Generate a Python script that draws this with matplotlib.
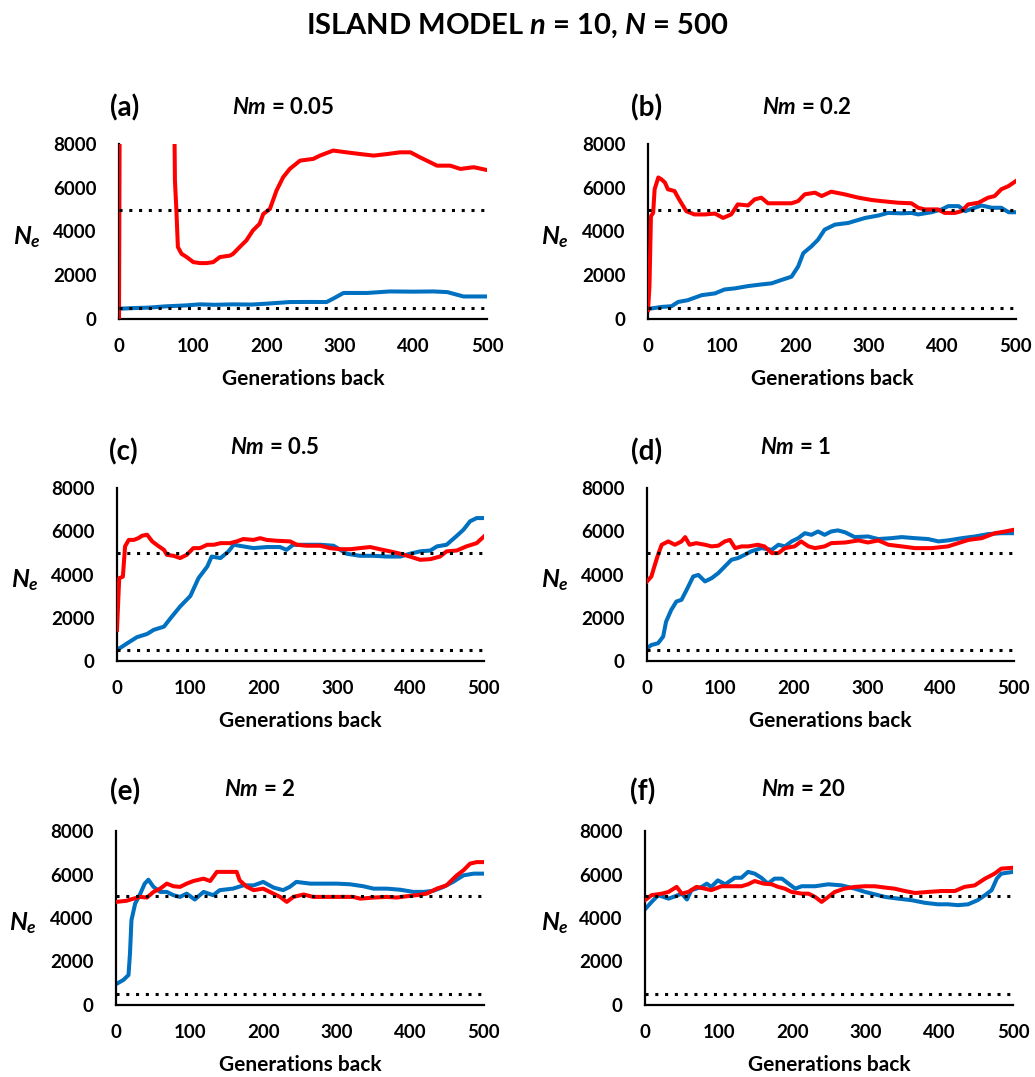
import matplotlib
matplotlib.use("Agg")
import matplotlib.pyplot as plt

# 字体设置
plt.rcParams['font.family'] = ['Lato', 'DejaVu Sans']
plt.rcParams['font.weight'] = 'bold'
plt.rcParams['mathtext.fontset'] = 'custom'
plt.rcParams['mathtext.it'] = 'Lato:italic:bold'
plt.rcParams['mathtext.rm'] = 'Lato:bold'
plt.rcParams['mathtext.bf'] = 'Lato:bold'

# 数据: 每个面板一条红线一条蓝线 (代数, Ne)
panel_labels = ['(a)', '(b)', '(c)', '(d)', '(e)', '(f)']
nm_values = ['0.05', '0.2', '0.5', '1', '2', '20']
ref_levels = [500, 5000]
x_ticks = [0, 100, 200, 300, 400, 500]
y_ticks = [0, 2000, 4000, 6000, 8000]

a_red_x = [0, 2, 72, 76, 78, 80, 85, 92, 101, 110, 119, 128, 137, 151, 155, 164, 173, 182, 191, 196,
           205, 214, 223, 232, 246, 264, 273, 291, 309, 328, 346, 364, 382, 396, 409, 423, 432, 450,
           464, 482, 500]
a_red_y = [0, 20000, 20000, 6330, 4960, 3290, 2980, 2830, 2600, 2555, 2555, 2600, 2830, 2900, 2980,
           3290, 3590, 4050, 4350, 4800, 5030, 5870, 6480, 6860, 7240, 7320, 7470, 7700, 7620, 7540,
           7470, 7540, 7620, 7620, 7390, 7160, 7010, 7010, 6860, 6940, 6810]
a_blue_x = [0, 20, 40, 64, 90, 110, 130, 155, 180, 200, 232, 260, 282, 291, 305, 337, 368, 400, 427,
            446, 468, 500]
a_blue_y = [470, 500, 520, 580, 620, 670, 650, 670, 660, 700, 775, 780, 775, 930, 1190, 1190, 1260,
            1250, 1260, 1230, 1030, 1030]

b_red_x = [0, 2, 4, 7, 9, 14, 18, 23, 27, 36, 41, 45, 52, 63, 77, 91, 102, 113, 122, 136, 145, 154,
           163, 181, 195, 204, 213, 227, 236, 249, 267, 286, 304, 317, 340, 358, 367, 376, 394, 403,
           417, 426, 435, 449, 462, 471, 480, 490, 500]
b_red_y = [400, 1500, 4700, 4850, 5930, 6470, 6390, 6240, 5930, 5850, 5545, 5315, 4930, 4780, 4780,
           4820, 4620, 4780, 5240, 5190, 5470, 5545, 5290, 5290, 5290, 5390, 5700, 5775, 5620, 5820,
           5700, 5545, 5440, 5390, 5315, 5290, 5085, 5010, 5010, 4850, 4850, 4930, 5240, 5315, 5545,
           5620, 5930, 6080, 6310]
b_blue_x = [0, 18, 32, 41, 54, 73, 91, 104, 118, 136, 154, 168, 181, 195, 204, 211, 222, 231, 240,
            254, 272, 295, 313, 326, 345, 358, 367, 385, 399, 408, 422, 431, 444, 453, 467, 480, 490,
            500]
b_blue_y = [460, 550, 585, 780, 860, 1090, 1170, 1350, 1400, 1505, 1580, 1630, 1780, 1935, 2400, 3010,
            3320, 3625, 4085, 4315, 4390, 4620, 4730, 4850, 4830, 4850, 4780, 4880, 5010, 5160, 5160,
            4930, 5085, 5190, 5085, 5085, 4880, 4880]

c_red_x = [0, 3, 8, 11, 16, 23, 29, 34, 41, 48, 57, 64, 68, 77, 86, 95, 104, 113, 123, 132, 141, 154,
           163, 172, 186, 195, 204, 218, 236, 245, 259, 277, 290, 304, 318, 331, 345, 358, 372, 386,
           399, 413, 427, 440, 449, 463, 476, 490, 500]
c_red_y = [1440, 3830, 3900, 5300, 5600, 5600, 5680, 5790, 5840, 5530, 5300, 5140, 4910, 4865, 4760,
           4910, 5220, 5220, 5375, 5375, 5450, 5450, 5530, 5640, 5600, 5680, 5600, 5560, 5530, 5375,
           5330, 5330, 5220, 5170, 5170, 5220, 5270, 5170, 5070, 4960, 4830, 4680, 4710, 4830, 5070,
           5110, 5300, 5450, 5760]
c_blue_x = [0, 14, 27, 41, 50, 64, 73, 86, 100, 111, 123, 129, 141, 152, 159, 172, 186, 204, 222, 231,
            240, 259, 277, 295, 313, 331, 349, 368, 386, 399, 413, 427, 436, 449, 463, 472, 481, 490,
            500]
c_blue_y = [510, 820, 1100, 1250, 1440, 1590, 1980, 2520, 3010, 3830, 4370, 4830, 4760, 5070, 5375,
            5300, 5220, 5270, 5270, 5140, 5375, 5375, 5375, 5330, 4960, 4865, 4865, 4830, 4830, 4960,
            5070, 5110, 5300, 5375, 5790, 6070, 6460, 6610, 6610]

d_red_x = [0, 6, 10, 15, 20, 29, 38, 47, 52, 58, 67, 79, 88, 97, 106, 113, 120, 129, 138, 151, 160,
           170, 179, 188, 201, 210, 220, 229, 242, 251, 270, 288, 301, 315, 329, 347, 365, 388, 410,
           424, 438, 456, 474, 488, 500]
d_red_y = [3680, 3910, 4370, 4910, 5375, 5530, 5375, 5530, 5730, 5375, 5450, 5375, 5300, 5330, 5530,
           5600, 5220, 5300, 5300, 5375, 5300, 4990, 4990, 5220, 5300, 5530, 5300, 5220, 5300, 5450,
           5480, 5575, 5480, 5575, 5375, 5300, 5220, 5220, 5300, 5450, 5600, 5680, 5910, 5990, 6070]
d_blue_x = [0, 6, 15, 22, 26, 33, 40, 47, 54, 63, 70, 79, 88, 97, 106, 115, 124, 133, 142, 156, 170,
            179, 188, 197, 206, 215, 224, 233, 242, 251, 260, 270, 283, 301, 315, 333, 347, 365, 383,
            397, 410, 429, 447, 465, 483, 500]
d_blue_y = [590, 740, 820, 1130, 1820, 2360, 2750, 2830, 3290, 3910, 3980, 3680, 3830, 4060, 4370,
            4680, 4760, 4910, 5070, 5220, 5140, 5375, 5300, 5530, 5680, 5910, 5835, 5990, 5835, 5990,
            6040, 5950, 5730, 5760, 5640, 5680, 5730, 5680, 5640, 5530, 5575, 5680, 5760, 5870, 5910,
            5910]

e_red_x = [0, 14, 24, 33, 42, 51, 60, 69, 78, 87, 96, 105, 119, 128, 137, 150, 164, 168, 178, 187,
           200, 209, 223, 232, 241, 255, 268, 286, 304, 322, 332, 350, 368, 381, 395, 409, 422, 436,
           449, 463, 472, 481, 490, 500]
e_red_y = [4740, 4790, 4890, 4970, 4940, 5200, 5350, 5580, 5460, 5430, 5580, 5700, 5810, 5700, 6120,
           6120, 6120, 5730, 5430, 5280, 5350, 5200, 4970, 4740, 4970, 5080, 4970, 4970, 4970, 4970,
           4890, 4940, 4970, 4940, 5000, 5050, 5120, 5350, 5500, 5960, 6190, 6500, 6570, 6570]
e_blue_x = [0, 10, 17, 19, 21, 26, 33, 39, 44, 51, 60, 69, 78, 87, 96, 107, 119, 132, 141, 159, 173,
            187, 200, 214, 227, 236, 245, 264, 282, 300, 318, 336, 350, 368, 386, 404, 418, 431, 445,
            458, 472, 486, 500]
e_blue_y = [960, 1150, 1380, 2370, 3900, 4660, 5120, 5580, 5760, 5430, 5200, 5200, 5050, 4970, 5120,
            4850, 5200, 5050, 5280, 5350, 5500, 5500, 5660, 5400, 5280, 5430, 5660, 5580, 5580, 5580,
            5550, 5460, 5350, 5350, 5300, 5200, 5200, 5250, 5430, 5660, 5960, 6040, 6040]

f_red_x = [0, 9, 23, 32, 43, 50, 59, 70, 81, 90, 104, 118, 131, 140, 149, 161, 172, 181, 190, 199,
           213, 222, 231, 240, 249, 258, 271, 285, 299, 312, 326, 339, 353, 367, 385, 403, 421, 434,
           448, 462, 475, 484, 500]
f_red_y = [4820, 5050, 5120, 5200, 5430, 5120, 5200, 5430, 5350, 5280, 5460, 5460, 5460, 5550, 5700,
           5580, 5550, 5430, 5350, 5200, 5120, 5120, 4970, 4740, 4970, 5200, 5350, 5430, 5460, 5460,
           5400, 5350, 5240, 5150, 5200, 5240, 5240, 5430, 5500, 5810, 6040, 6270, 6310]
f_blue_x = [0, 9, 18, 25, 32, 41, 50, 57, 63, 77, 84, 90, 99, 109, 122, 131, 140, 149, 158, 167, 176,
            186, 195, 204, 213, 231, 249, 267, 285, 299, 312, 326, 344, 362, 380, 398, 412, 425, 439,
            452, 462, 471, 478, 484, 500]
f_blue_y = [4400, 4740, 5050, 4970, 4890, 5000, 5120, 4850, 5280, 5430, 5580, 5430, 5730, 5550, 5850,
            5850, 6120, 6040, 5850, 5580, 5810, 5810, 5580, 5350, 5460, 5460, 5550, 5500, 5350, 5200,
            5090, 4970, 4890, 4820, 4700, 4630, 4630, 4590, 4630, 4820, 5050, 5280, 5810, 6040, 6120]

red_x = [a_red_x, b_red_x, c_red_x, d_red_x, e_red_x, f_red_x]
red_y = [a_red_y, b_red_y, c_red_y, d_red_y, e_red_y, f_red_y]
blue_x = [a_blue_x, b_blue_x, c_blue_x, d_blue_x, e_blue_x, f_blue_x]
blue_y = [a_blue_y, b_blue_y, c_blue_y, d_blue_y, e_blue_y, f_blue_y]

# 布局 (像素): 坐标轴 左, 上, 右, 下
W, H = 1035, 1077
axes_px = [(119, 144, 487, 319), (648, 144, 1016, 319),
           (117, 488, 484, 661), (647, 488, 1014, 661),
           (116, 831, 484, 1005), (645, 831, 1013, 1005)]
label_px = [(125, 108), (647, 108), (123, 452), (647, 452), (125, 792), (643, 792)]
nm_px = [(283, 107), (807, 107), (275, 447), (795, 447), (260, 789), (803, 789)]
ne_px = [(27, 237), (555, 237), (25, 580), (555, 580), (23, 923), (555, 923)]

RED = '#ff0000'
BLUE = '#0070c0'

fig = plt.figure(figsize=(W / 100, H / 100), dpi=100)
fig.text(0.5, 1 - 26 / H, 'ISLAND MODEL $n$ = 10, $N$ = 500', ha='center', va='center',
         fontsize=21, fontweight='bold')

for i in range(6):
    l, t, r, b = axes_px[i]
    ax = fig.add_axes([l / W, 1 - b / H, (r - l) / W, (b - t) / H])
    ax.plot(blue_x[i], blue_y[i], color=BLUE, lw=2.9, zorder=2)
    ax.plot(red_x[i], red_y[i], color=RED, lw=2.9, zorder=3)
    for lev in ref_levels:
        ax.plot([0, 500], [lev, lev], color='black', lw=2.2, linestyle=(0, (1, 2.2)), zorder=4)

    ax.set_xlim(0, 500)
    ax.set_ylim(0, 8000)
    ax.set_xticks(x_ticks)
    ax.set_yticks(y_ticks)
    ax.tick_params(length=0, labelsize=13.5)
    ax.tick_params(axis='y', pad=16)
    ax.tick_params(axis='x', pad=14)
    for s in ['top', 'right']:
        ax.spines[s].set_visible(False)
    for s in ['left', 'bottom']:
        ax.spines[s].set_linewidth(1.6)
        ax.spines[s].set_color('black')
    ax.set_xlabel('Generations back', fontsize=15, fontweight='bold', labelpad=10)

    x, y = label_px[i]
    fig.text(x / W, 1 - y / H, panel_labels[i], ha='center', va='center', fontsize=20)
    x, y = nm_px[i]
    fig.text(x / W, 1 - y / H, '$Nm$ = ' + nm_values[i], ha='center', va='center', fontsize=16)
    x, y = ne_px[i]
    fig.text(x / W, 1 - y / H, '$N_e$', ha='center', va='center', fontsize=18)

fig.savefig('out.png', dpi=100, facecolor='white')
